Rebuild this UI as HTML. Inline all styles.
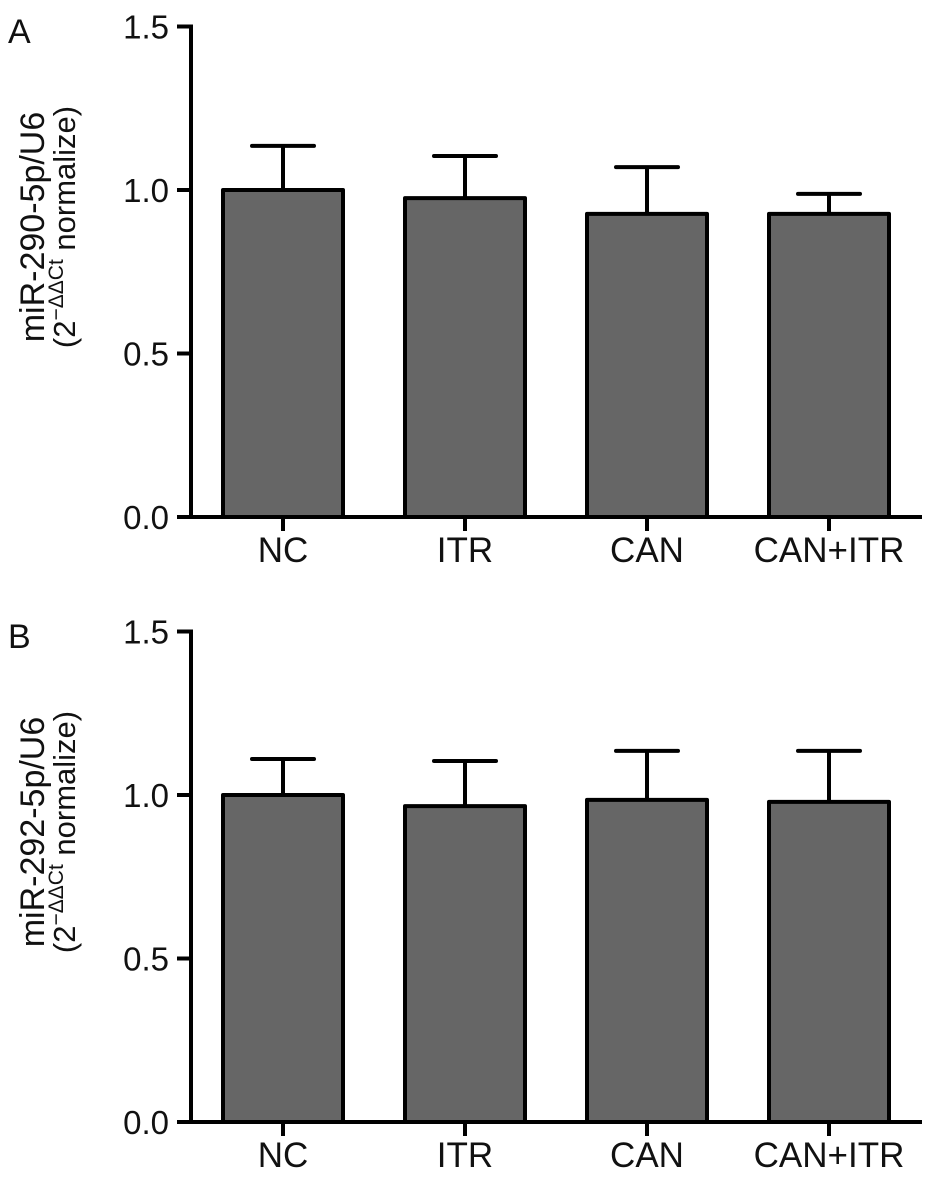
<!DOCTYPE html>
<html><head><meta charset="utf-8"><style>
html,body{margin:0;padding:0;background:#fff}
svg{display:block;font-family:"Liberation Sans",Arial,sans-serif}
</style></head><body>
<svg id="chart" width="936" height="1192" viewBox="0 0 936 1192"></svg>
<script>
const categories = ["NC","ITR","CAN","CAN+ITR"];
const valuesA = [1.0, 0.975, 0.927, 0.927];
const errorsA = [1.135, 1.104, 1.07, 0.988];
const valuesB = [1.0, 0.966, 0.985, 0.979];
const errorsB = [1.11, 1.104, 1.135, 1.135];
const yTicks = [0.0, 0.5, 1.0, 1.5];
const yTickLabels = ["0.0","0.5","1.0","1.5"];

const NS = "http://www.w3.org/2000/svg";
const svg = document.getElementById("chart");
function mk(tag, attrs, parent){
  const e = document.createElementNS(NS, tag);
  for (const k in attrs) e.setAttribute(k, attrs[k]);
  (parent||svg).appendChild(e); return e;
}
function panel(letter, zeroY, vals, errs, line1, key){
  const g = mk("g", {});
  
  
  const unit = 327;
  const y = v => zeroY - v * unit;
  const x = i => 283 + i * 182;
  const axX = 191, axEnd = 922, sw = 4;
  const L = mk("text", {x:8, y:zeroY-474, "font-size":34, fill:"#111"}, g);
  L.textContent = letter;
  
  
  const ya = mk("line", {x1:axX, y1:y(1.5)-2, x2:axX, y2:zeroY+2, stroke:"#000","stroke-width":sw}, g);
  
  
  yTicks.forEach((t, i) => {
    mk("line", {x1:177, y1:y(t), x2:axX, y2:y(t), stroke:"#000","stroke-width":sw}, g);
    const tl = mk("text", {x:169, y:y(t)+12, "font-size":33, "text-anchor":"end", fill:"#111"}, g);
    tl.textContent = yTickLabels[i];
    
    
  });
  vals.forEach((v, i) => {
    const cx = x(i);
    const e = mk("line", {x1:cx, y1:y(v), x2:cx, y2:y(errs[i]), stroke:"#000","stroke-width":sw}, g);
    
    
    const c = mk("line", {x1:cx-31, y1:y(errs[i]), x2:cx+31, y2:y(errs[i]), stroke:"#000","stroke-width":sw,"stroke-linecap":"round"}, g);
    
    
    const r = mk("rect", {x:cx-60, y:y(v), width:120, height:zeroY-y(v), fill:"#666", stroke:"#000","stroke-width":sw,"stroke-linejoin":"round"}, g);
    
    
    mk("line", {x1:cx, y1:zeroY, x2:cx, y2:zeroY+14, stroke:"#000","stroke-width":sw}, g);
    const cl = mk("text", {x:cx, y:zeroY+45, "font-size":35, "text-anchor":"middle", fill:"#111"}, g);
    cl.textContent = categories[i];
    
    
  });
  const xa = mk("line", {x1:177, y1:zeroY, x2:axEnd, y2:zeroY, stroke:"#000","stroke-width":sw}, g);
  
  
  const cy = zeroY - 290;
  const t1 = mk("text", {x:0, y:0, "font-size":34, "text-anchor":"middle", fill:"#111", transform:`translate(44,${cy}) rotate(-90)`}, g);
  t1.textContent = line1;
  
  
  const t2 = mk("text", {x:0, y:0, "font-size":31, "text-anchor":"middle", fill:"#111", transform:`translate(75,${cy}) rotate(-90)`}, g);
  
  
  const a = document.createElementNS(NS,"tspan"); a.textContent = "(2"; t2.appendChild(a);
  const b = document.createElementNS(NS,"tspan"); b.setAttribute("dy","-12"); b.setAttribute("font-size","21"); b.textContent = "−ΔΔCt"; t2.appendChild(b);
  const c = document.createElementNS(NS,"tspan"); c.setAttribute("dy","12"); c.textContent = " normalize)"; t2.appendChild(c);
}
panel("A", 517, valuesA, errorsA, "miR-290-5p/U6", "a");
panel("B", 1122, valuesB, errorsB, "miR-292-5p/U6", "b");
</script>
</body></html>
